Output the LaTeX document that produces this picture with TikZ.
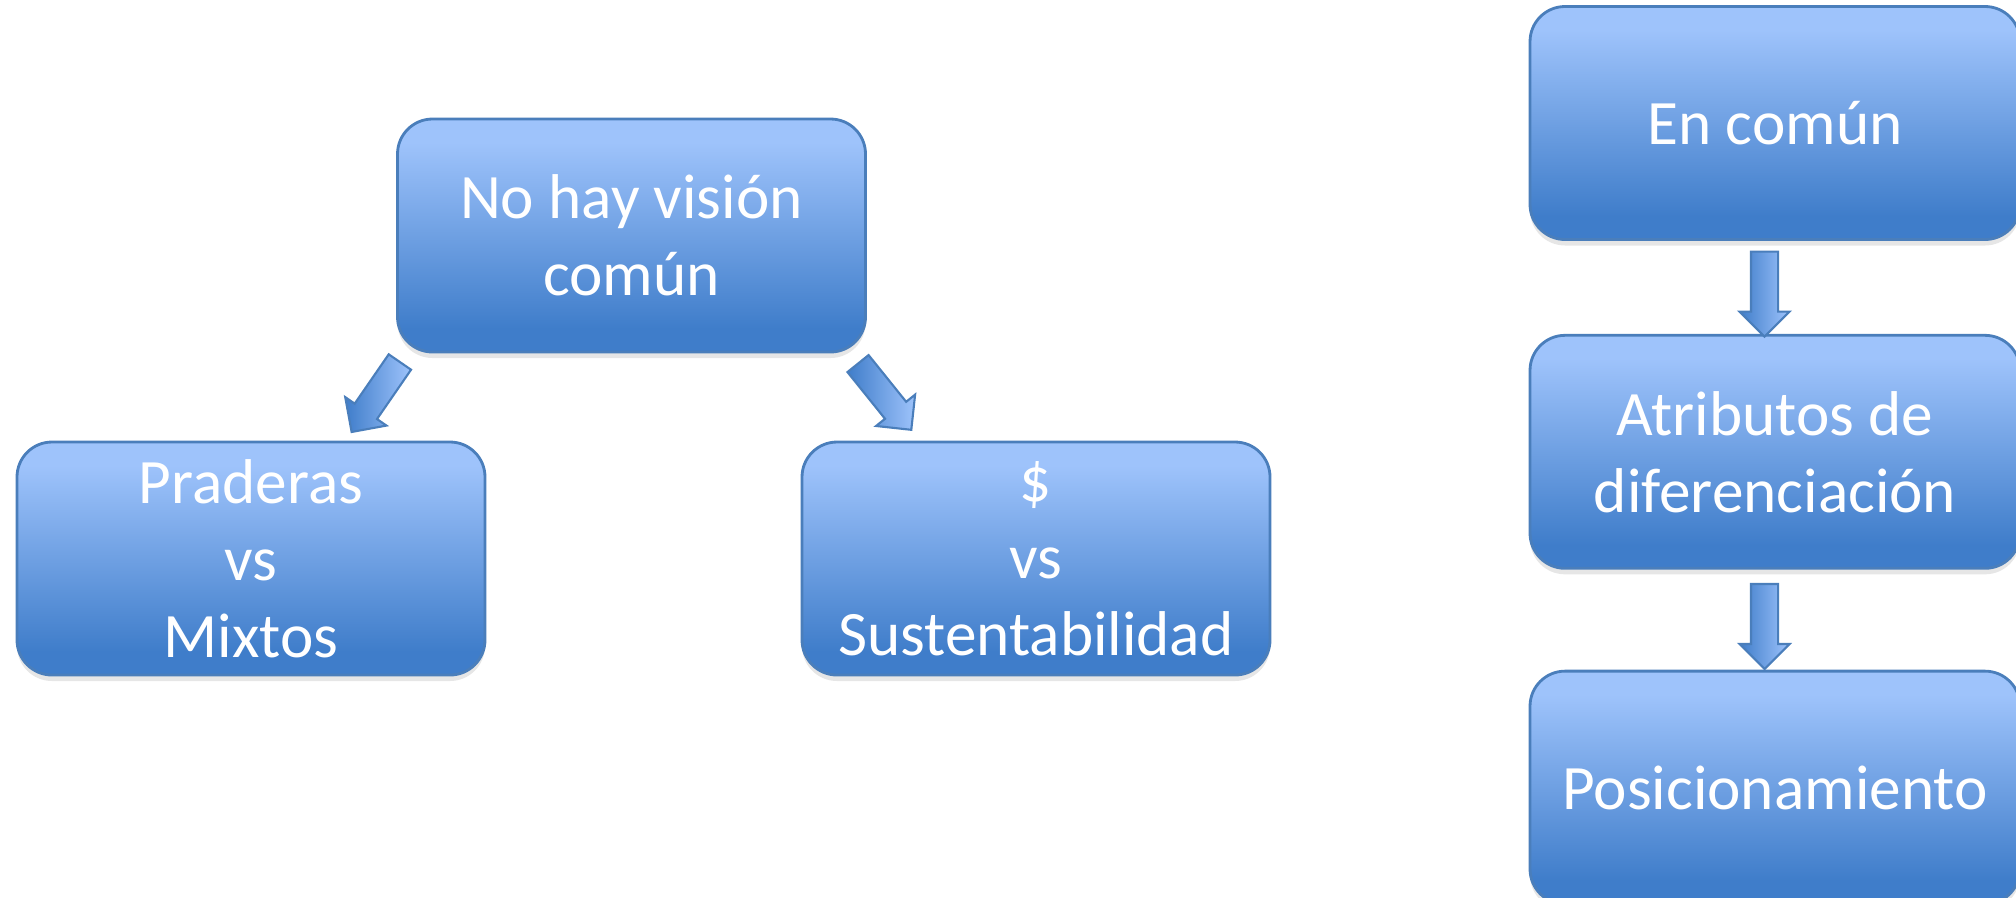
\documentclass[tikz,border=0pt]{standalone}
\usepackage{fontspec}
\setmainfont{Carlito}
\usetikzlibrary{positioning,calc,shapes.arrows,shadows}

\definecolor{cajaclara}{RGB}{158,195,251}
\definecolor{cajaoscura}{RGB}{63,125,202}
\definecolor{cajaborde}{RGB}{74,126,187}

% light on top, darkening towards the bottom
\pgfdeclareverticalshading{cajashade}{100bp}{color(0bp)=(cajaoscura);
   color(30bp)=(cajaoscura); color(70bp)=(cajaclara); color(100bp)=(cajaclara)}

\tikzset{
   caja/.style={rectangle, rounded corners=0.35cm, draw=cajaborde, line width=0.8pt,
      shading=cajashade, shading angle=0,
      minimum width=4.68cm, minimum height=2.33cm, inner sep=0pt,
      text=white, align=center, font=\fontsize{18}{21.9}\selectfont,
      drop shadow={shadow xshift=0pt, shadow yshift=-0.06cm, opacity=0.2}},
   flecha/.style={single arrow, draw=cajaborde, line width=0.6pt,
      left color=cajaoscura, right color=cajaclara,
      inner xsep=0pt, inner ysep=0.125cm, minimum height=0.85cm,
      single arrow head extend=0.115cm, single arrow head indent=0pt}
}

\begin{document}
\begin{tikzpicture}
   \useasboundingbox (0,0) rectangle (20.16,-8.97);

   % left group
   \node[caja] (nohay) at (6.315,-2.355) {No hay visión\\común};
   \node[caja] (praderas) at (2.51,-5.585) {Praderas\\vs\\Mixtos};
   \node[caja] (dinero)   at (10.36,-5.585) {\$\\vs\\Sustentabilidad};

   \node[flecha, rotate=235.4] (f1) at ($(nohay.south west)+(-0.165,-0.38)$) {};
   \node[flecha, rotate=-51.2] (f2) at ($(nohay.south east)+(0.135,-0.38)$) {};

   % right column
   \node[caja, minimum width=4.9cm] (encomun) at (17.75,-1.23) {En común};
   \node[caja, minimum width=4.9cm, below=0.93cm of encomun] (atributos)
      {Atributos de\\diferenciación};
   \node[caja, minimum width=4.9cm, below=1.0cm of atributos] (posicion)
      {Posicionamiento};

   \node[flecha, rotate=-90] (f3)
      at ($(encomun.south)!0.5!(atributos.north)+(-0.105,0)$) {};
   \node[flecha, rotate=-90] (f4)
      at ($(atributos.south)!0.5!(posicion.north)+(-0.105,0)$) {};
\end{tikzpicture}
\end{document}
